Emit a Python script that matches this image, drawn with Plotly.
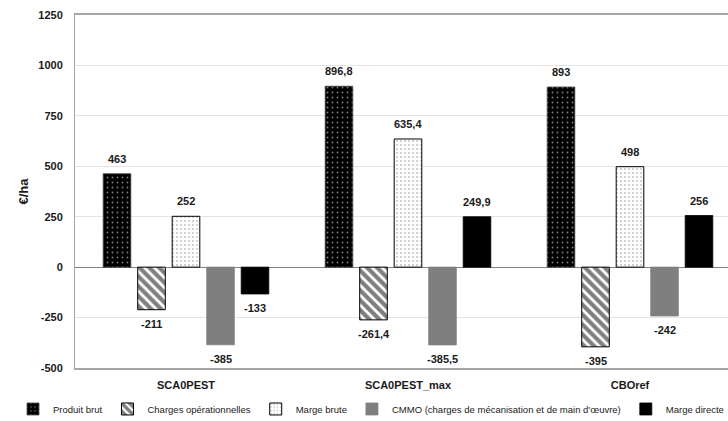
import plotly.graph_objects as go

categories = ["SCA0PEST", "SCA0PEST_max", "CBOref"]
series_names = ["Produit brut", "Charges opérationnelles", "Marge brute",
                "CMMO (charges de mécanisation et de main d'œuvre)", "Marge directe"]
produit_brut = [463, 896.8, 893]
charges_op = [-211, -261.4, -395]
marge_brute = [252, 635.4, 498]
cmmo = [-385, -385.5, -242]
marge_directe = [-133, 249.9, 256]
y_ticks = [-500, -250, 0, 250, 500, 750, 1000, 1250]

series_values = [produit_brut, charges_op, marge_brute, cmmo, marge_directe]

styles = [
    dict(color="black", line=dict(color="#404040", width=0.8),
         pattern=dict(shape=".", fgcolor="white", bgcolor="black", size=5, solidity=0.1)),
    dict(color="white", line=dict(color="black", width=1),
         pattern=dict(shape="\\", fgcolor="black", bgcolor="white", size=7, solidity=0.6)),
    dict(color="white", line=dict(color="black", width=1),
         pattern=dict(shape=".", fgcolor="#8a8a8a", bgcolor="white", size=4, solidity=0.2)),
    dict(color="#7f7f7f", line=dict(color="#7f7f7f", width=0.8)),
    dict(color="black", line=dict(color="black", width=0.8)),
]

FONT = "Liberation Sans"
bargap = 0.223
nser = len(series_names)
xs = list(range(len(categories)))

fig = go.Figure()
for name, vals, st in zip(series_names, series_values, styles):
    fig.add_trace(go.Bar(x=xs, y=vals, name=name, marker=st, hoverinfo="skip"))

def fmt(v):
    s = ("%g" % v)
    return s.replace(".", ",")

slot = (1 - bargap) / nser
annotations = []
for i, vals in enumerate(series_values):
    for c, v in enumerate(vals):
        annotations.append(dict(
            x=c + (i - (nser - 1) / 2) * slot, y=v, xref="x", yref="y",
            text="<b>%s</b>" % fmt(v), showarrow=False,
            yshift=15 if v >= 0 else -14,
            font=dict(family=FONT, size=11, color="#1a1a1a")))

W = 728
left = 75
plot_w = W - left
fig.update_layout(
    width=W, height=421,
    margin=dict(l=0, r=0, t=15, b=53, autoexpand=False),
    paper_bgcolor="white", plot_bgcolor="white",
    barmode="group", bargap=bargap, bargroupgap=0.2,
    font=dict(family=FONT, color="#1a1a1a"),
    annotations=annotations,
    showlegend=True,
    legend=dict(orientation="h", x=371 / W, xanchor="center", y=-0.075, yanchor="top",
                font=dict(family=FONT, size=9.5, color="#1a1a1a"),
                itemwidth=30, traceorder="normal", tracegroupgap=0, entrywidth=0,
                bgcolor="rgba(0,0,0,0)"),
)
fig.update_xaxes(
    domain=[left / W, 1],
    range=[-0.5, -0.5 + plot_w / 222.0],
    tickvals=xs, ticktext=["<b>%s</b>" % c for c in categories],
    tickfont=dict(family=FONT, size=11, color="#1a1a1a"),
    showgrid=False, zeroline=False,
    showline=True, linecolor="#a6a6a6", linewidth=1.5, mirror=True,
    ticks="", ticklabelstandoff=6, automargin=False,
)
fig.update_yaxes(
    range=[-500, 1250], tickvals=y_ticks,
    ticktext=["<b>%d</b>" % t for t in y_ticks],
    tickfont=dict(family=FONT, size=11, color="#1a1a1a"),
    showgrid=True, gridcolor="#e3e3e3", gridwidth=1,
    zeroline=True, zerolinecolor="#808080", zerolinewidth=1,
    showline=True, linecolor="#a6a6a6", linewidth=1,
    ticks="", ticklabelstandoff=9, automargin=False,
    title=dict(text="<b>€/ha</b>", font=dict(family=FONT, size=13, color="#1a1a1a"), standoff=6),
)
fig.write_html("out.html", config={"displayModeBar": False},
               post_script="document.body.style.margin='0';document.body.style.overflow='hidden';")
